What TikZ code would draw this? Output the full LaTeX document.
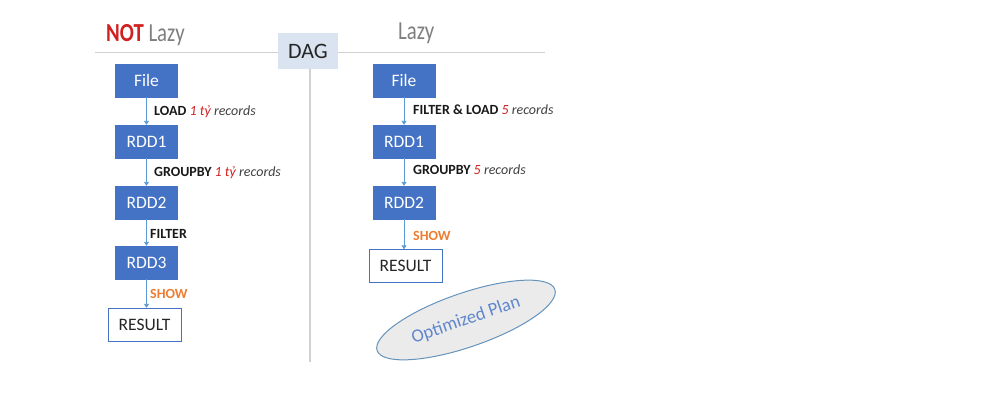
\documentclass[tikz,border=0pt]{standalone}
\usepackage{fontspec}
\setmainfont{Carlito}
\usetikzlibrary{arrows.meta,shapes.geometric}
\definecolor{boxblue}{HTML}{4472C4}
\definecolor{arrblue}{HTML}{5B9BD5}
\definecolor{dagfill}{HTML}{DAE3F0}
\definecolor{rednum}{HTML}{D02020}
\definecolor{showor}{HTML}{ED7D31}
\definecolor{titlegray}{HTML}{7F7F7F}
\definecolor{linegray}{HTML}{D0D0D0}
\tikzset{
  rdd/.style={draw=boxblue, fill=boxblue, text=white, minimum width=62pt, minimum height=33pt, inner sep=0pt, font=\fontsize{17.5}{17.5}\selectfont},
  resbox/.style={draw=boxblue, fill=white, text=black!85, minimum width=73pt, minimum height=33pt, inner sep=0pt, font=\fontsize{17.5}{17.5}\selectfont},
  flow/.style={draw=arrblue, line width=0.9pt, -{Triangle[width=5pt,length=4pt]}},
  lbl/.style={anchor=west, inner sep=0pt, font=\fontsize{14}{14}\selectfont\bfseries, text=black!90},
  ttl/.style={inner sep=0pt, font=\fontsize{26}{26}\selectfont\bfseries}
}
\newcommand{\numr}[1]{\textcolor{rednum}{\mdseries\itshape #1}}
\newcommand{\recs}{\textcolor{black!75}{\mdseries\itshape records}}
\begin{document}
\begin{tikzpicture}[x=1pt,y=-1pt]
\useasboundingbox (0,0) rectangle (992,412);
% separators
\draw[linegray, line width=1pt] (95,53) -- (545,53);
\node[fill=dagfill, minimum width=60pt, minimum height=36pt, inner sep=0pt, font=\fontsize{22}{22}\selectfont, text=black!85] (dag) at (308,51) {DAG};
\coordinate (vend) at (310,362);
\draw[linegray, line width=1.2pt] (dag.south -| vend) -- (vend);
% titles
\node[ttl, anchor=west] (t1) at (106,35) {\scalebox{0.8}[1]{\textcolor{rednum}{NOT} \textcolor{titlegray}{\mdseries Lazy}}};
\node[ttl, anchor=west] (t2) at (398,33) {\scalebox{0.8}[1]{\textcolor{titlegray}{\mdseries Lazy}}};
% left column
\node[rdd] (lf) at (146.5,80.5) {File};
\node[rdd] (l1) at (146.5,141.5) {RDD1};
\node[rdd] (l2) at (146.5,202.5) {RDD2};
\node[rdd] (l3) at (146.5,262.5) {RDD3};
\node[resbox] (lr) at (144.5,324.5) {RESULT};
\draw[flow] (lf) -- (l1);
\draw[flow] (l1) -- (l2);
\draw[flow] (l2) -- (l3);
\draw[flow] (l3.south) -- (l3.south |- lr.north);
\node[lbl] (la) at (154,112) {LOAD \numr{1 tỷ} \recs};
\node[lbl] (lb) at (154,173) {GROUPBY \numr{1 tỷ} \recs};
\node[lbl] (lc) at (150,234) {FILTER};
\node[lbl, text=showor] (ld) at (150,294) {SHOW};
% right column
\node[rdd] (rf) at (404,80.5) {File};
\node[rdd] (r1) at (404,141.5) {RDD1};
\node[rdd] (r2) at (404,202.5) {RDD2};
\node[resbox] (rr) at (405.5,266) {RESULT};
\draw[flow] (rf) -- (r1);
\draw[flow] (r1) -- (r2);
\draw[flow] (r2.south) -- (r2.south |- rr.north);
\node[lbl] (ra) at (413,110) {FILTER \& LOAD \numr{5} \recs};
\node[lbl] (rb) at (413,170) {GROUPBY \numr{5} \recs};
\node[lbl, text=showor] (rc) at (413,236) {SHOW};
% optimized plan
\node[ellipse, draw=arrblue!70!gray, line width=1pt, fill=black!8, minimum width=188pt, minimum height=54pt, inner sep=0pt, rotate=19, text=boxblue!85, font=\fontsize{18.5}{18.5}\selectfont] (op) at (466,320) {Optimized Plan};
\end{tikzpicture}
\end{document}
